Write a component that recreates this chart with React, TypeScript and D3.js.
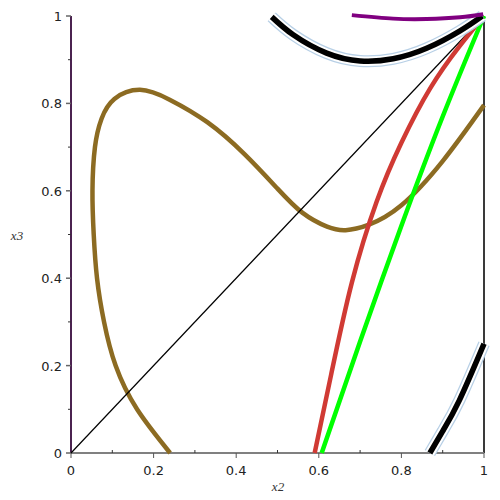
import React, { useEffect, useRef } from "react";
import * as d3 from "d3";

// curves, [x2, x3]
const brownCurve: [number, number][] = [
  [0.24, 0.0], [0.16, 0.1], [0.108, 0.2], [0.08, 0.3], [0.063, 0.4],
  [0.055, 0.5], [0.052, 0.6], [0.058, 0.7], [0.074, 0.765], [0.105, 0.81],
  [0.167, 0.831], [0.24, 0.808], [0.33, 0.757], [0.42, 0.684], [0.5, 0.605],
  [0.56, 0.55], [0.62, 0.518], [0.665, 0.51], [0.72, 0.522], [0.8, 0.567],
  [0.9, 0.668], [1.0, 0.796],
];
const redCurve: [number, number][] = [
  [0.59, 0.0], [0.63, 0.18], [0.68, 0.39], [0.74, 0.575], [0.8, 0.71],
  [0.87, 0.835], [0.94, 0.93], [1.0, 1.0],
];
const greenCurve: [number, number][] = [
  [0.607, 0.0], [0.7, 0.255], [0.8, 0.52], [0.9, 0.77], [1.0, 1.0],
];
const blackTop: [number, number][] = [
  [0.486, 0.998], [0.538, 0.957], [0.619, 0.915], [0.7, 0.897], [0.78, 0.902],
  [0.861, 0.926], [0.942, 0.966], [0.996, 1.0],
];
const blackBottom: [number, number][] = [
  [0.869, 0.0], [0.9, 0.05], [0.94, 0.12], [1.0, 0.25],
];
const purpleCurve: [number, number][] = [
  [0.68, 1.002], [0.78, 0.994], [0.861, 0.993], [0.942, 0.997], [0.998, 1.004],
];
const diagonal: [number, number][] = [[0, 0], [1, 1]];

const majorTicks = [0, 0.2, 0.4, 0.6, 0.8, 1];
const minorTicks = [0.1, 0.3, 0.5, 0.7, 0.9];

const App = () => {
  const svgRef = useRef<SVGSVGElement>(null);

  useEffect(() => {
    const svg = d3.select(svgRef.current);
    svg.selectAll("*").remove();

    const x = d3.scaleLinear().domain([0, 1]).range([71, 484]);
    const y = d3.scaleLinear().domain([0, 1]).range([453, 16]);

    const mk = (curve: d3.CurveFactory) =>
      d3
        .line<[number, number]>()
        .x((d) => x(d[0]))
        .y((d) => y(d[1]))
        .curve(curve);
    const natural = mk(d3.curveNatural);
    const fnLine = mk(d3.curveMonotoneX);

    // right border at x2 = 1
    svg.append("line")
      .attr("x1", x(1)).attr("x2", x(1))
      .attr("y1", y(0)).attr("y2", y(1))
      .attr("stroke", "#3a3a3a").attr("stroke-width", 2);

    // bottom axis
    const gx = svg.append("g");
    gx.append("line")
      .attr("x1", x(0)).attr("x2", x(1))
      .attr("y1", y(0)).attr("y2", y(0))
      .attr("stroke", "#808080").attr("stroke-width", 2);
    gx.selectAll(".maj").data(majorTicks).enter().append("line")
      .attr("x1", (d) => x(d)).attr("x2", (d) => x(d))
      .attr("y1", y(0)).attr("y2", y(0) + 5)
      .attr("stroke", "#555").attr("stroke-width", 1);
    gx.selectAll(".min").data(minorTicks).enter().append("line")
      .attr("x1", (d) => x(d)).attr("x2", (d) => x(d))
      .attr("y1", y(0)).attr("y2", y(0) - 3)
      .attr("stroke", "#333").attr("stroke-width", 1);
    gx.selectAll("text").data(majorTicks).enter().append("text")
      .attr("x", (d) => x(d)).attr("y", 475)
      .attr("text-anchor", "middle")
      .attr("font-family", "DejaVu Sans").attr("font-size", 13)
      .attr("fill", "#222")
      .text((d) => d3.format("")(d));

    // left axis
    const gy = svg.append("g");
    gy.append("line")
      .attr("x1", x(0)).attr("x2", x(0))
      .attr("y1", y(0)).attr("y2", y(1))
      .attr("stroke", "#4b2350").attr("stroke-width", 2);
    gy.selectAll(".maj").data(majorTicks).enter().append("line")
      .attr("x1", x(0) - 5).attr("x2", x(0))
      .attr("y1", (d) => y(d)).attr("y2", (d) => y(d))
      .attr("stroke", "#666").attr("stroke-width", 1.5);
    gy.selectAll(".min").data(minorTicks).enter().append("line")
      .attr("x1", x(0) - 3).attr("x2", x(0))
      .attr("y1", (d) => y(d)).attr("y2", (d) => y(d))
      .attr("stroke", "#333").attr("stroke-width", 1);
    gy.selectAll("text").data(majorTicks).enter().append("text")
      .attr("x", 62).attr("y", (d) => y(d) + 5)
      .attr("text-anchor", "end")
      .attr("font-family", "DejaVu Sans").attr("font-size", 13)
      .attr("fill", "#222")
      .text((d) => d3.format("")(d));

    // axis titles
    svg.append("text")
      .attr("x", 278).attr("y", 491)
      .attr("text-anchor", "middle")
      .attr("font-family", "Liberation Serif").attr("font-style", "italic")
      .attr("font-size", 13).attr("fill", "#333")
      .text("x2");
    svg.append("text")
      .attr("x", 17).attr("y", 240)
      .attr("text-anchor", "middle")
      .attr("font-family", "Liberation Serif").attr("font-style", "italic")
      .attr("font-size", 13).attr("fill", "#333")
      .text("x3");

    const draw = (
      data: [number, number][],
      color: string,
      width: number,
      gen = fnLine
    ) =>
      svg.append("path")
        .attr("d", gen(data))
        .attr("fill", "none")
        .attr("stroke", color)
        .attr("stroke-width", width)
        .attr("stroke-linecap", "butt");

    draw(brownCurve, "#8c6b22", 4.5, natural);
    draw(diagonal, "#000", 1.2);
    draw(redCurve, "#d03a34", 4.5, natural);
    draw(greenCurve, "#00ff00", 4.5, natural);

    // black curves with a thin light-blue halo
    [blackTop, blackBottom].forEach((c) => {
      draw(c, "#b8d0e6", 12, natural);
      draw(c, "#ffffff", 9.5, natural);
      draw(c, "#000000", 5.5, natural);
    });
    draw(purpleCurve, "#800080", 4, natural);
  }, []);

  return (
    <svg
      ref={svgRef}
      width={500}
      height={500}
      style={{ position: "absolute", left: 0, top: 0, background: "#fff" }}
    />
  );
};

export default App;
